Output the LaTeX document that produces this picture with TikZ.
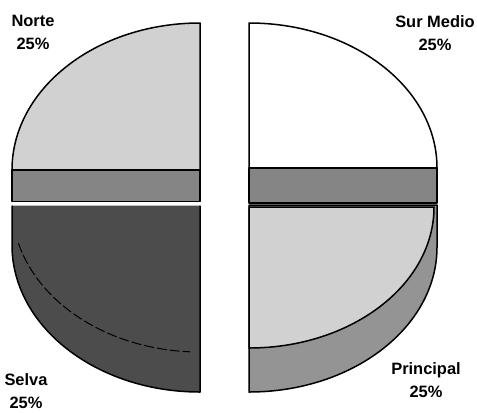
\documentclass[tikz,border=0pt]{standalone}
\usepackage{fontspec}
\newfontfamily\lblfont{Liberation Sans}
\definecolor{lightfill}{gray}{0.82}
\definecolor{midfill}{gray}{0.52}
\definecolor{sidefill}{gray}{0.58}
\definecolor{darkfill}{gray}{0.30}
\begin{document}
\begin{tikzpicture}[x=1bp,y=-1bp,
  edge/.style={draw=black,line width=1.5bp,line join=round},
  lbl/.style={align=center,inner sep=0pt,font=\lblfont\bfseries\fontsize{16.5}{23}\selectfont}]
\useasboundingbox (0,0) rectangle (477,412);
% left pie
\path[edge,fill=lightfill] (200,170) -- (200,23) arc[start angle=270,end angle=180,x radius=188,y radius=147] -- cycle;
\path[edge,fill=midfill] (12,170) rectangle (200,201.5);
\fill[darkfill] (12,205.5) -- (200,205.5) -- (200,392) arc[start angle=90,end angle=180,x radius=188,y radius=147] -- cycle;
\draw[edge] (200,205.5) -- (200,392) arc[start angle=90,end angle=180,x radius=188,y radius=147] -- (12,205.5);
\draw[black,line width=1bp,dash pattern=on 10bp off 3bp] (200,205) ++(165:188 and 147) arc[start angle=165,end angle=93,x radius=188,y radius=147];
% right pie
\path[edge,fill=white] (249,168) -- (249,23) arc[start angle=270,end angle=360,x radius=188,y radius=145] -- cycle;
\path[edge,fill=midfill] (249,168) rectangle (437,203);
\path[edge,fill=sidefill] (249,205) -- (437,205) -- (437,247) arc[start angle=0,end angle=90,x radius=188,y radius=145] -- cycle;
\path[edge,fill=lightfill] (249,207) -- (434,207) arc[start angle=0,end angle=90,x radius=185,y radius=141] -- cycle;
% labels
\node[lbl] (norte) at (33,32) {Norte\\25\%};
\node[lbl] (surmedio) at (435,33.5) {Sur Medio\\25\%};
\node[lbl] (selva) at (26,391) {Selva\\25\%};
\node[lbl] (principal) at (426,380) {Principal\\25\%};
\end{tikzpicture}
\end{document}
